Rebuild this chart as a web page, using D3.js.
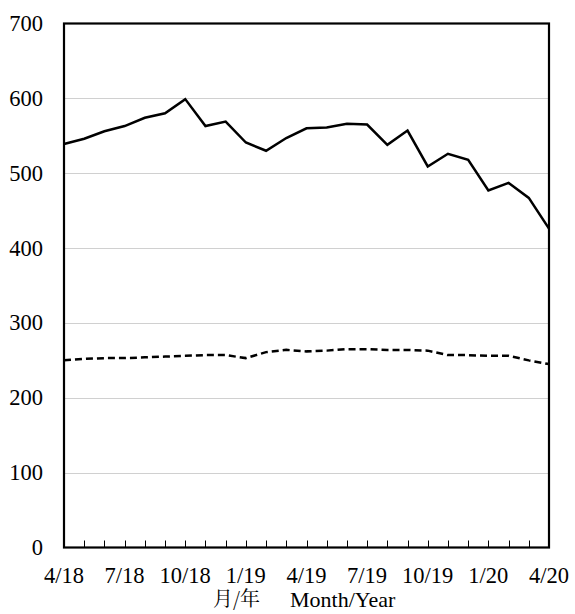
<!DOCTYPE html>
<html><head><meta charset="utf-8">
<script src="https://cdn.jsdelivr.net/npm/d3@7"></script>
<style>body{margin:0;background:#fff}svg{display:block}</style>
</head><body>
<svg id="c" width="575" height="614"></svg>
<script>
const months = ["4/18","5/18","6/18","7/18","8/18","9/18","10/18","11/18","12/18","1/19","2/19","3/19","4/19","5/19","6/19","7/19","8/19","9/19","10/19","11/19","12/19","1/20","2/20","3/20","4/20"];
const solidSeries = [539,546,556,563,574,580,599,563,569,541,530,547,560,561,566,565,538,557,509,526,518,477,487,467,426];
const dashedSeries = [250,252,253,253,254,255,256,257,257,253,261,264,262,263,265,265,264,264,263,257,257,256,256,250,245];
const tickLabels = ["4/18","7/18","10/18","1/19","4/19","7/19","10/19","1/20","4/20"];
const yTicks = [0,100,200,300,400,500,600,700];
const xTitleCn = "月/年";
const xTitleEn = "Month/Year";

const svg = d3.select("#c");
const L = 64, R = 549, T = 23.5, B = 547.5;
const x = d3.scalePoint().domain(months).range([L, R]);
const y = d3.scaleLinear().domain([0,700]).range([B, T]);
const serif = '"Liberation Serif"';
const cjk = '"Noto Serif CJK SC"';

svg.append("g").selectAll("line").data(yTicks.filter(v=>v>0 && v<700)).join("line")
  .attr("x1", L).attr("x2", R).attr("y1", d=>Math.round(y(d))+0.5).attr("y2", d=>Math.round(y(d))+0.5)
  .attr("stroke", "#d0d0d0").attr("stroke-width", 1);

const line = d3.line().x((d,i)=>x(months[i])).y(d=>y(d));
svg.append("path").datum(solidSeries).attr("d", line).attr("fill","none")
  .attr("stroke","#000").attr("stroke-width",2.5).attr("stroke-linejoin","miter");
svg.append("path").datum(dashedSeries).attr("d", line).attr("fill","none")
  .attr("stroke","#000").attr("stroke-width",2.5).attr("stroke-dasharray","7,4");

svg.append("rect").attr("x", L).attr("y", T).attr("width", R-L).attr("height", B-T)
  .attr("fill","none").attr("stroke","#000").attr("stroke-width",2.2);

const inner = months.slice(1, months.length-1);
svg.append("g").selectAll("line").data(inner).join("line")
  .attr("x1", d=>Math.round(x(d))+0.5).attr("x2", d=>Math.round(x(d))+0.5)
  .attr("y1", B).attr("y2", B-7).attr("stroke","#000").attr("stroke-width",1);

svg.append("g").selectAll("text").data(yTicks).join("text")
  .attr("x", 43).attr("y", d=>y(d)+7.5).attr("text-anchor","end")
  .style("font-family", serif).style("font-size","22.5px").attr("fill","#000").text(d=>d);

svg.append("g").selectAll("text").data(tickLabels).join("text")
  .attr("x", d=>x(d)).attr("y", 583).attr("text-anchor","middle")
  .style("font-family", serif).style("font-size","22.5px").attr("fill","#000").text(d=>d);

svg.append("text").attr("x", 213).attr("y", 606)
  .style("font-family", cjk).style("font-size","20px").attr("fill","#000").text(xTitleCn);
svg.append("text").attr("x", 290).attr("y", 607)
  .style("font-family", serif).style("font-size","22px").attr("fill","#000").text(xTitleEn);
</script>
</body></html>
